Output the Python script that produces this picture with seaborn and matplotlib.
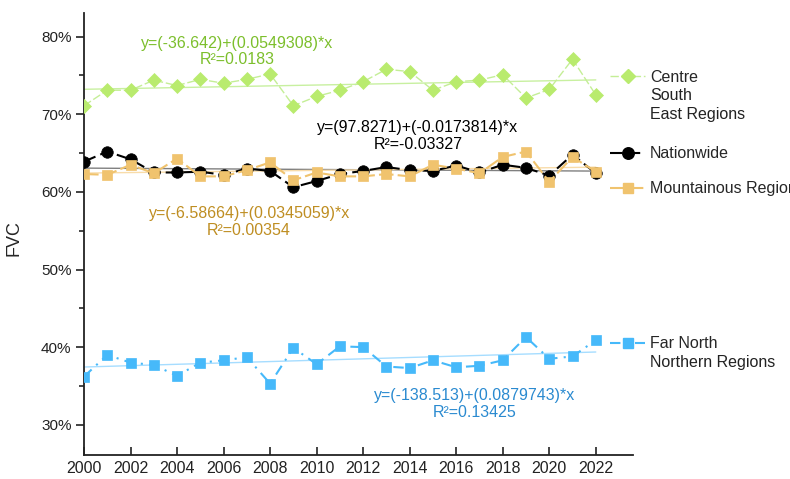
import numpy as np
import pandas as pd
import matplotlib
matplotlib.use("Agg")
import matplotlib.pyplot as plt
from matplotlib.lines import Line2D
from matplotlib.ticker import MultipleLocator, FuncFormatter
import seaborn as sns

# ---------------- data ----------------
years = list(range(2000, 2023))

centre_south_east = [71.1, 73.1, 73.1, 74.4, 73.7, 74.5, 74.0, 74.5, 75.2, 71.1, 72.3, 73.1,
                     74.2, 75.8, 75.5, 73.1, 74.2, 74.4, 75.1, 72.1, 73.2, 77.1, 72.5]
nationwide = [63.9, 65.2, 64.2, 62.5, 62.5, 62.6, 62.2, 63.0, 62.7, 60.6, 61.4, 62.3,
              62.7, 63.2, 62.8, 62.7, 63.4, 62.5, 63.5, 63.1, 62.1, 64.8, 62.4]
mountainous = [62.3, 62.2, 63.5, 62.4, 64.3, 62.0, 62.0, 62.8, 63.8, 61.5, 62.5, 62.0,
               62.0, 62.3, 62.0, 63.5, 63.0, 62.4, 64.5, 65.2, 61.3, 64.5, 62.6]
far_north = [36.2, 39.0, 38.0, 37.7, 36.3, 38.0, 38.3, 38.7, 35.3, 39.9, 37.8, 40.1,
             40.0, 37.5, 37.3, 38.3, 37.4, 37.6, 38.3, 41.3, 38.5, 38.8, 40.9]

series_names = ["Centre\nSouth\nEast Regions", "Nationwide", "Mountainous Region", "Far North\nNorthern Regions"]
intercepts = [-36.642, 97.8271, -6.58664, -138.513]
slopes = [0.0549308, -0.0173814, 0.0345059, 0.0879743]
r2_labels = ["0.0183", "-0.03327", "0.00354", "0.13425"]
intercept_labels = ["-36.642", "97.8271", "-6.58664", "-138.513"]
slope_labels = ["0.0549308", "-0.0173814", "0.0345059", "0.0879743"]

y_ticks = [30, 40, 50, 60, 70, 80]
x_ticks = list(range(2000, 2023, 2))

# ---------------- style ----------------
sns.set_theme(style="ticks")
plt.rcParams["font.family"] = ["Liberation Sans", "DejaVu Sans"]
plt.rcParams["axes.linewidth"] = 1.3

fig = plt.figure(figsize=(7.9, 4.79), dpi=100)
ax = fig.add_axes([84 / 790, 1 - 455 / 479, (633 - 84) / 790, (455 - 13) / 479])

values = [centre_south_east, nationwide, mountainous, far_north]
marker_colors = ["#b9eb6e", "#000000", "#f0c36e", "#46b9fa"]
line_colors = ["#c4ee96", "#000000", "#f0c36e", "#46b9fa"]
trend_colors = ["#c8f0a0", "#808080", "#f8dcaa", "#a6ddff"]
text_colors = ["#7cbf2c", "#000000", "#bf8e22", "#2a8ad0"]
markers = ["D", "o", "s", "s"]
msizes = [6.8, 8.3, 6.6, 6.8]
lstyles = [(0, (6, 2)), (0, (6, 2.5)), (0, (7, 2)), (0, (5, 3, 1, 3))]
lwidths = [1.0, 1.5, 1.5, 1.5]

yrs = np.array(years)
for vals, mc, lc, tc, mk, ms, ls, lw, b0, b1 in zip(values, marker_colors, line_colors, trend_colors,
                                                   markers, msizes, lstyles, lwidths, intercepts, slopes):
    # trend line from the regression coefficients
    trend = pd.DataFrame({"year": yrs, "fit": b0 + b1 * yrs})
    sns.lineplot(data=trend, x="year", y="fit", ax=ax, color=tc, linewidth=1.0, zorder=2)
    df = pd.DataFrame({"year": yrs, "fvc": vals})
    sns.lineplot(data=df, x="year", y="fvc", ax=ax, color=lc, linewidth=lw, linestyle=ls,
                 marker=mk, markersize=ms, markerfacecolor=mc, markeredgecolor=mc,
                 markeredgewidth=0.5, zorder=3)

# ---------------- annotations ----------------
ann_pos = [(2006.6, 78.1), (2014.35, 67.2), (2007.1, 56.1), (2016.8, 32.7)]
for (xp, yp), a, s, r, tc in zip(ann_pos, intercept_labels, slope_labels, r2_labels, text_colors):
    ax.text(xp, yp, f"y=({a})+({s})*x\nR\u00b2={r}", ha="center", va="center",
            fontsize=11.5, color=tc, linespacing=1.15)

# ---------------- axes ----------------
ax.set_xlim(2000, 2023.6)
ax.set_ylim(26.1, 83.05)
ax.set_xticks(x_ticks)
ax.set_yticks(y_ticks)
ax.yaxis.set_minor_locator(MultipleLocator(5))
ax.yaxis.set_major_formatter(FuncFormatter(lambda v, p: f"{v:.0f}%"))
ax.tick_params(axis="y", which="major", direction="out", length=6, width=1.2, labelsize=11, pad=3)
ax.tick_params(axis="y", which="minor", direction="out", length=3.8, width=1.2)
ax.tick_params(axis="x", which="major", direction="in", length=5.5, width=1.2, labelsize=11.5, pad=4)
ax.set_xlabel("")
ax.set_ylabel("FVC", fontsize=13)
ax.yaxis.set_label_coords(-0.112, 0.49)
for s in ["top", "right"]:
    ax.spines[s].set_visible(False)
for s in ["left", "bottom"]:
    ax.spines[s].set_color("#222222")
ax.tick_params(colors="#222222")

# ---------------- legend entries ----------------
first_labels = ["Centre", "Nationwide", "Mountainous Region", "Far North"]
extra_lines = [["South", "East Regions"], [], [], ["Northern Regions"]]
leg_y = [77, 154, 189, 344]
for lab, extra, mc, lc, mk, ms, ls, lw, yy in zip(first_labels, extra_lines, marker_colors, line_colors,
                                                  markers, msizes, lstyles, lwidths, leg_y):
    h = Line2D([], [], color=lc, linewidth=lw, linestyle=ls, marker=mk, markersize=ms,
               markerfacecolor=mc, markeredgecolor=mc)
    leg = fig.legend([h], [lab], loc="center left", bbox_to_anchor=(610 / 790, 1 - yy / 479),
                     frameon=False, fontsize=11.5, handlelength=2.2, handletextpad=0.3,
                     borderpad=0, borderaxespad=0)
    for i, t in enumerate(extra):
        fig.text(650 / 790, 1 - (yy + 19 * (i + 1)) / 479, t, fontsize=11.5, va="center", ha="left",
                 color="#222222")

fig.savefig("out.png", dpi=100)
